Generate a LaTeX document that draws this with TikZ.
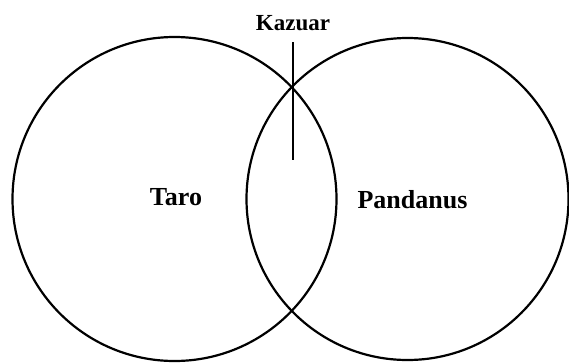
\documentclass[tikz,border=0pt]{standalone}
\usepackage{fontspec}
\setmainfont{Liberation Serif}
\begin{document}
\begin{tikzpicture}[x=1pt,y=-1pt,
  setcircle/.style={circle,draw,line width=2.2pt,inner sep=0pt},
  lbl/.style={font=\fontsize{26}{30}\selectfont\bfseries,inner sep=0pt}]
\useasboundingbox (0,0) rectangle (569,362);
\node[setcircle,minimum size=324pt] (L) at (174.5,199) {};
\node[setcircle,minimum size=322pt] (R) at (407.5,199) {};
\node[lbl] (taro) at (176,197) {Taro};
\node[lbl] (pand) at (412.5,200) {Pandanus};
\node[lbl,font=\fontsize{23}{27}\selectfont\bfseries,anchor=base] (kaz) at (293,30) {Kazuar};
\coordinate (ktop) at (293,42);
\coordinate (kbot) at (293,160);
\draw[line width=1.6pt] (ktop) -- (kbot);
\end{tikzpicture}
\end{document}
